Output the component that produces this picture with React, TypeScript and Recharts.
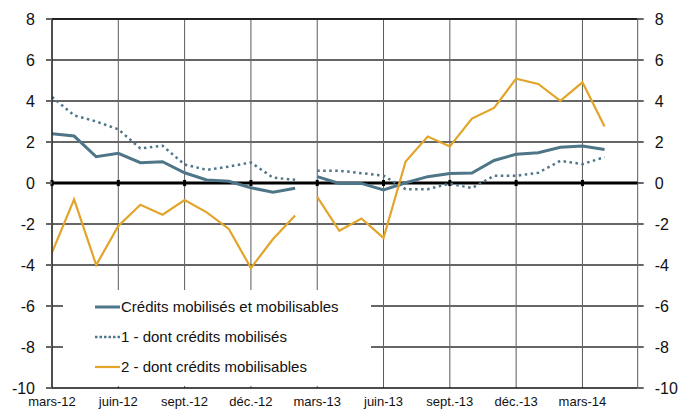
import React from 'react';
import { LineChart, Line, XAxis, YAxis, CartesianGrid, ReferenceLine, Legend } from 'recharts';

const months = [
  'mars-12', 'avr.-12', 'mai-12', 'juin-12', 'juil.-12', 'août-12', 'sept.-12', 'oct.-12', 'nov.-12',
  'déc.-12', 'janv.-13', 'févr.-13', 'mars-13', 'avr.-13', 'mai-13', 'juin-13', 'juil.-13', 'août-13',
  'sept.-13', 'oct.-13', 'nov.-13', 'déc.-13', 'janv.-14', 'févr.-14', 'mars-14', 'avr.-14',
];

const creditsTotal = [
  2.4, 2.29, 1.28, 1.45, 0.99, 1.04, 0.5, 0.15, 0.08, -0.23, -0.45, -0.26,
  0.31, -0.02, -0.02, -0.34, 0.01, 0.31, 0.46, 0.49, 1.1, 1.4, 1.48, 1.74, 1.8, 1.63,
];
const creditsMobilises = [
  4.2, 3.3, 3.0, 2.62, 1.68, 1.82, 0.9, 0.64, 0.8, 1.0, 0.26, 0.16,
  0.6, 0.6, 0.48, 0.36, -0.3, -0.3, -0.03, -0.25, 0.35, 0.35, 0.5, 1.08, 0.92, 1.26,
];
const creditsMobilisables = [
  -3.4, -0.8, -4.0, -2.1, -1.06, -1.55, -0.83, -1.43, -2.24, -4.15, -2.73, -1.58,
  -0.68, -2.33, -1.73, -2.68, 1.05, 2.27, 1.78, 3.14, 3.66, 5.09, 4.83, 4.01, 4.91, 2.76,
];

const seriesNames = [
  'Crédits mobilisés et mobilisables',
  '1 - dont crédits mobilisés',
  '2 - dont crédits mobilisables',
];

const yTicks = [-10, -8, -6, -4, -2, 0, 2, 4, 6, 8];
const xTicks = [0, 3, 6, 9, 12, 15, 18, 21, 24];
const breakAfterIndex = 11;

const BLUE = '#4f7688';
const ORANGE = '#e2a429';
const GRID = '#666666';
const FONT = '"Liberation Sans", Arial, sans-serif';

type Row = { x: number; total: number | null; mob: number | null; mobs: number | null };
const data: Row[] = [];
months.forEach((_, i) => {
  data.push({ x: i, total: creditsTotal[i], mob: creditsMobilises[i], mobs: creditsMobilisables[i] });
  if (i === breakAfterIndex) data.push({ x: i + 0.5, total: null, mob: null, mobs: null });
});

const legendItems = [
  { label: seriesNames[0], color: BLUE, width: 3, dash: undefined as string | undefined },
  { label: seriesNames[1], color: BLUE, width: 2.5, dash: '2.5 2' },
  { label: seriesNames[2], color: ORANGE, width: 2.2, dash: undefined as string | undefined },
];

const LegendContent = () => (
  <div style={{ position: 'relative', width: 308, height: 96, background: '#fff', fontFamily: FONT }}>
    {legendItems.map((it, k) => (
      <div
        key={k}
        style={{
          position: 'absolute',
          left: 32,
          top: 16.7 + k * 30 - 10,
          height: 20,
          display: 'flex',
          alignItems: 'center',
          whiteSpace: 'nowrap',
        }}
      >
        <svg width={25} height={6} style={{ display: 'block' }}>
          <line x1={0} y1={3} x2={25} y2={3} stroke={it.color} strokeWidth={it.width} strokeDasharray={it.dash} />
        </svg>
        <span style={{ fontSize: 15, color: '#111', marginLeft: 1 }}>{it.label}</span>
      </div>
    ))}
  </div>
);

export default function App() {
  return (
    <div style={{ position: 'absolute', left: 0, top: 0 }}>
      <LineChart width={680} height={410} data={data} margin={{ top: 19, right: 0, bottom: 0, left: 0 }}>
        <CartesianGrid yAxisId="l" stroke="#5a5a5a" strokeWidth={1} horizontal={false} />
        <XAxis
          type="number"
          dataKey="x"
          domain={[0, 26.5]}
          ticks={xTicks}
          allowDataOverflow
          interval={0}
          height={22}
          tickSize={0}
          tickMargin={9}
          tickLine={false}
          axisLine={{ stroke: '#111', strokeWidth: 1.6 }}
          tickFormatter={(v: number) => months[v]}
          tick={{ fontSize: 13, fill: '#111', fontFamily: FONT }}
        />
        <YAxis
          yAxisId="l"
          domain={[-10, 8]}
          ticks={yTicks}
          allowDataOverflow
          interval={0}
          width={52}
          tickSize={6}
          tickMargin={11}
          tickLine={{ stroke: GRID, strokeWidth: 2 }}
          axisLine={{ stroke: '#111', strokeWidth: 1.2 }}
          tick={{ fontSize: 16, fill: '#111', fontFamily: FONT }}
        />
        <YAxis
          yAxisId="r"
          orientation="right"
          domain={[-10, 8]}
          ticks={yTicks}
          allowDataOverflow
          interval={0}
          width={42.3}
          tickSize={6}
          tickMargin={11}
          tickLine={{ stroke: GRID, strokeWidth: 2 }}
          axisLine={false}
          tick={{ fontSize: 16, fill: '#111', fontFamily: FONT, textAnchor: 'start' }}
        />
        <ReferenceLine yAxisId="l" y={yTicks[1]} stroke={GRID} strokeWidth={2} />
        <ReferenceLine yAxisId="l" y={yTicks[2]} stroke={GRID} strokeWidth={2} />
        <ReferenceLine yAxisId="l" y={yTicks[3]} stroke={GRID} strokeWidth={2} />
        <ReferenceLine yAxisId="l" y={yTicks[4]} stroke={GRID} strokeWidth={2} />
        <ReferenceLine yAxisId="l" y={yTicks[6]} stroke={GRID} strokeWidth={2} />
        <ReferenceLine yAxisId="l" y={yTicks[7]} stroke={GRID} strokeWidth={2} />
        <ReferenceLine yAxisId="l" y={yTicks[8]} stroke={GRID} strokeWidth={2} />
        <ReferenceLine yAxisId="l" y={yTicks[9]} stroke="#222" strokeWidth={2} />
        <ReferenceLine yAxisId="l" y={0} stroke="#000" strokeWidth={3} />
        {xTicks.map((t) => (
          <ReferenceLine
            key={t}
            yAxisId="l"
            segment={[{ x: t, y: -0.15 }, { x: t, y: 0.15 }]}
            stroke="#000"
            strokeWidth={3}
          />
        ))}
        <Line
          yAxisId="l"
          type="linear"
          dataKey="mob"
          name={seriesNames[1]}
          stroke={BLUE}
          strokeWidth={2.5}
          strokeDasharray="2.5 3.5"
          dot={false}
          connectNulls={false}
          isAnimationActive={false}
        />
        <Line
          yAxisId="l"
          type="linear"
          dataKey="total"
          name={seriesNames[0]}
          stroke={BLUE}
          strokeWidth={3}
          dot={false}
          connectNulls={false}
          isAnimationActive={false}
        />
        <Line
          yAxisId="r"
          type="linear"
          dataKey="mobs"
          name={seriesNames[2]}
          stroke={ORANGE}
          strokeWidth={2.2}
          dot={false}
          connectNulls={false}
          isAnimationActive={false}
        />
        <Legend
          layout="vertical"
          align="center"
          verticalAlign="middle"
          content={() => <LegendContent />}
          wrapperStyle={{ position: 'absolute', left: 63, top: 290, width: 308, height: 96 }}
        />
      </LineChart>
    </div>
  );
}
